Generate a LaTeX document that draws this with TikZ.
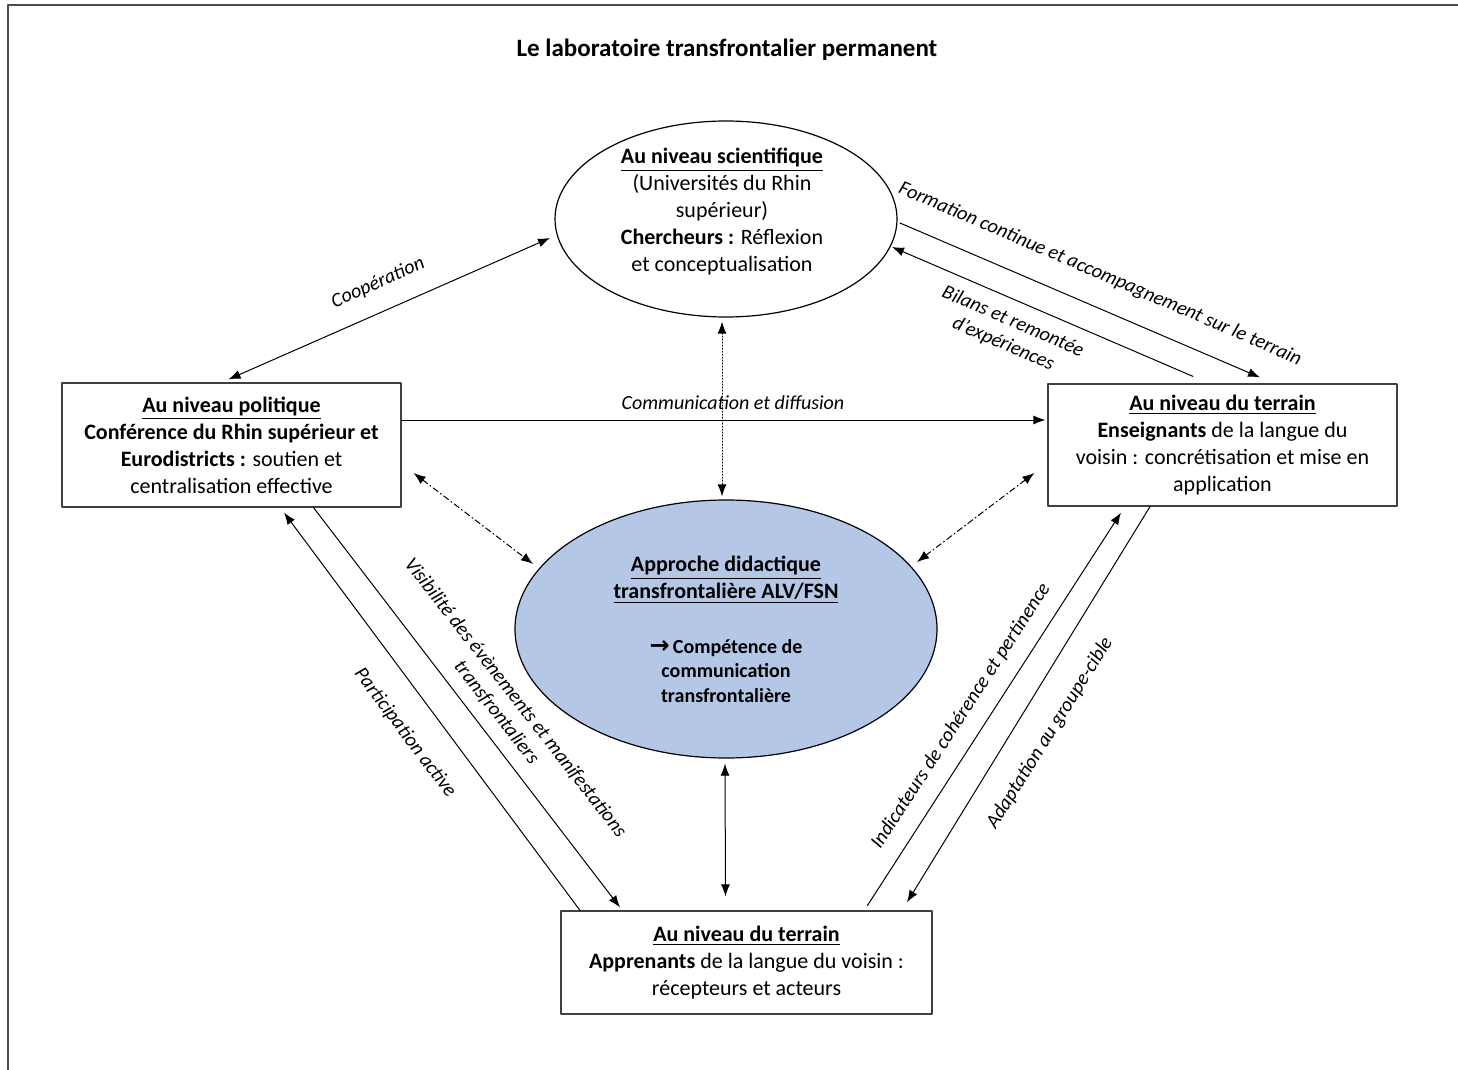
\documentclass[tikz,border=0pt]{standalone}
\usepackage{fontspec}
\setmainfont{Carlito}
\newfontfamily\flechefont{DejaVu Sans}
\usetikzlibrary{arrows.meta,calc,shapes.geometric}
\definecolor{bleuclair}{RGB}{180,199,231}
\begin{document}
\begin{tikzpicture}[x=0.5pt,y=-0.5pt,line cap=round,line join=round,
  >={Latex[length=6pt,width=4.5pt]},
  niveau/.style={draw=black!75,line width=0.6pt,rectangle,align=center,inner sep=0pt,
    font=\fontsize{11}{13.5}\selectfont},
  bulle/.style={draw=black,line width=0.6pt,ellipse,inner sep=0pt},
  texte/.style={align=center,inner sep=0pt,font=\fontsize{11}{13.5}\selectfont},
  lbl/.style={align=center,inner sep=1pt,font=\fontsize{10}{12}\selectfont\itshape},
  fleche/.style={line width=0.5pt},
  pointille/.style={line width=0.5pt,densely dotted},
  tiret/.style={line width=0.5pt,dash pattern=on 3pt off 1.5pt on 0.6pt off 1.5pt}]
  \useasboundingbox (0,0) rectangle (1458,1070);
  \draw[black!70,line width=1pt] (8,1070) -- (8,5) -- (1458,5);
  \node[font=\fontsize{12.5}{15}\selectfont\bfseries] (titre) at (727,50) {Le laboratoire transfrontalier permanent};

  % les quatre niveaux
  \node[bulle,minimum width=171pt,minimum height=98pt] (sci) at (726,219) {};
  \node[texte] (scitxt) at (722,212) {\underline{\textbf{Au niveau scientifique}}\\(Universités du Rhin\\supérieur)\\\textbf{Chercheurs :} Réflexion\\et conceptualisation};
  \node[niveau,minimum width=169.5pt,minimum height=62pt] (pol) at (231.5,445) {\underline{\textbf{Au niveau politique}}\\\textbf{Conférence du Rhin supérieur et}\\\textbf{Eurodistricts :} soutien et\\centralisation effective};
  \node[niveau,minimum width=174.5pt,minimum height=61pt] (ter) at (1222.5,445) {\underline{\textbf{Au niveau du terrain}}\\\textbf{Enseignants} de la langue du\\voisin : concrétisation et mise en\\application};
  \node[niveau,minimum width=185.5pt,minimum height=51.5pt] (app) at (746.5,962.5) {\underline{\textbf{Au niveau du terrain}}\\\textbf{Apprenants} de la langue du voisin :\\récepteurs et acteurs};

  % approche au centre
  \node[bulle,fill=bleuclair,minimum width=211pt,minimum height=129pt] (did) at (726,629) {};
  \node[texte,font=\fontsize{11}{13.5}\selectfont\bfseries] (didtitre) at (726,580) {\underline{Approche didactique}\\\underline{transfrontalière ALV/FSN}};
  \node[texte,font=\fontsize{10}{12.25}\selectfont\bfseries] (didcomp) at (726,671) {{\flechefont\bfseries\fontsize{12}{12}\selectfont →}\,Compétence de\\communication\\transfrontalière};

  % liaisons
  \draw[fleche,<->] ($(pol.north)+(-3,-3)$) -- ($(sci.center)+(-176,19)$);
  \draw[fleche,->] ($(pol.east)+(0,-25)$) -- ($(ter.west)+(-2,-25)$);
  \draw[pointille,<->] ($(sci.south)+(-4,4)$) -- ($(did.north)+(-4,-3)$);
  \draw[tiret,<->] ($(pol.east)+(12,28)$) -- ($(did.center)+(-193,-65)$);
  \draw[tiret,<->] ($(ter.west)+(-13,28)$) -- ($(did.center)+(191,-67)$);
  \draw[fleche,<->] ($(did.south)+(-1,5)$) -- ($(app.north)+(-21,-14)$);
  \draw[fleche,->] ($(sci.center)+(174,4)$) -- ($(ter.north)+(37.5,-6)$);
  \draw[fleche,->] ($(ter.north)+(-29.5,-7)$) -- ($(sci.center)+(166,28)$);
  \draw[fleche,->] ($(app.north)+(-166.5,0)$) -- ($(pol.south)+(52.5,5)$);
  \draw[fleche,->] ($(pol.south)+(82,0)$) -- ($(app.north)+(-126.5,-3)$);
  \draw[fleche,->] ($(app.north)+(121,-5)$) -- ($(ter.south)+(-101.5,6)$);
  \draw[fleche,->] ($(ter.south)+(-72.5,0)$) -- ($(app.north)+(160.5,-8)$);

  % textes des liaisons
  \node[lbl,rotate=24] (lcoop) at (378,283) {Coopération};
  \node[lbl] (lcomm) at (733,403) {Communication et diffusion};
  \node[lbl,rotate=-23.3] (lformation) at (1100,274) {Formation continue et accompagnement sur le terrain};
  \node[lbl,rotate=-23.3] (lbilans) at (1008,333) {Bilans et remontée\\d’expériences};
  \node[lbl,rotate=-53] (lpartic) at (405,733) {Participation active};
  \node[lbl,rotate=-52] (lvisib) at (506,705) {Visibilité des évènements et manifestations\\transfrontaliers};
  \node[lbl,rotate=57] (lindic) at (961,716) {Indicateurs de cohérence et pertinence};
  \node[lbl,rotate=58] (ladapt) at (1050,733) {Adaptation au groupe-cible};
\end{tikzpicture}
\end{document}
